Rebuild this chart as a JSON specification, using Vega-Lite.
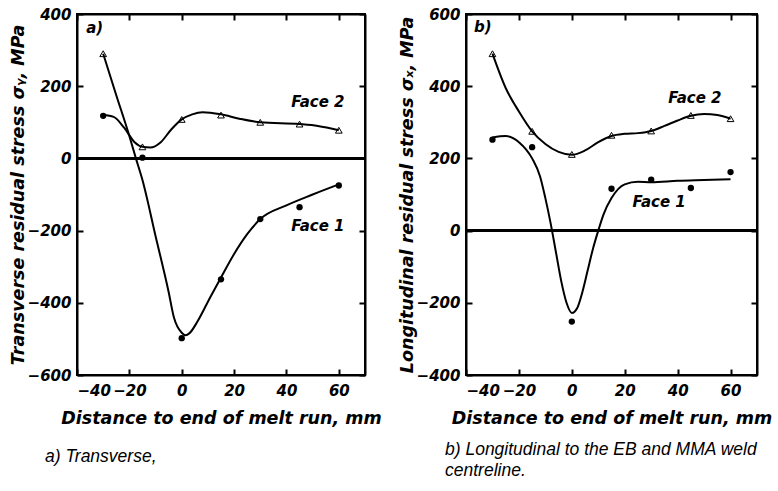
{
  "$schema": "https://vega.github.io/schema/vega-lite/v6.json",
  "background": "white",
  "padding": {"left": 8, "top": 6, "right": 0, "bottom": 0},
  "spacing": 14,
  "config": {
    "view": {"stroke": "black", "strokeWidth": 2},
    "axis": {
      "domain": true,
      "domainColor": "black",
      "domainWidth": 2,
      "grid": false,
      "tickColor": "black",
      "tickWidth": 2,
      "tickSize": -6,
      "labelFont": "DejaVu Sans",
      "labelFontSize": 15,
      "labelFontWeight": "bold",
      "labelFontStyle": "italic",
      "labelColor": "black",
      "labelExpr": "datum.value < 0 ? '\u2212' + format(-datum.value, 'd') : format(datum.value, 'd')",
      "titleFont": "DejaVu Sans",
      "titleFontSize": 17.5,
      "titleFontWeight": "bold",
      "titleFontStyle": "italic",
      "titleColor": "black"
    },
    "title": {
      "font": "Liberation Sans",
      "fontSize": 17.5,
      "fontStyle": "italic",
      "fontWeight": "normal",
      "color": "black",
      "orient": "bottom",
      "anchor": "start",
      "frame": "group",
      "lineHeight": 21
    }
  },
  "hconcat": [
    {
      "width": 288,
      "height": 361,
      "title": {"text": "a) Transverse,", "dx": -32, "offset": 21},
      "data": {"values": [
        {"kind": "curve", "series": "Face 1", "x": -30, "y": 290},
        {"kind": "curve", "series": "Face 1", "x": -25, "y": 175},
        {"kind": "curve", "series": "Face 1", "x": -20, "y": 62},
        {"kind": "curve", "series": "Face 1", "x": -17.5, "y": 0},
        {"kind": "curve", "series": "Face 1", "x": -15, "y": -60},
        {"kind": "curve", "series": "Face 1", "x": -10, "y": -215},
        {"kind": "curve", "series": "Face 1", "x": -5, "y": -370},
        {"kind": "curve", "series": "Face 1", "x": -3, "y": -440},
        {"kind": "curve", "series": "Face 1", "x": 0, "y": -483},
        {"kind": "curve", "series": "Face 1", "x": 1.5, "y": -490},
        {"kind": "curve", "series": "Face 1", "x": 3, "y": -484},
        {"kind": "curve", "series": "Face 1", "x": 6, "y": -452},
        {"kind": "curve", "series": "Face 1", "x": 11, "y": -383},
        {"kind": "curve", "series": "Face 1", "x": 15, "y": -330},
        {"kind": "curve", "series": "Face 1", "x": 20, "y": -265},
        {"kind": "curve", "series": "Face 1", "x": 25, "y": -210},
        {"kind": "curve", "series": "Face 1", "x": 30, "y": -168},
        {"kind": "curve", "series": "Face 1", "x": 40, "y": -130},
        {"kind": "curve", "series": "Face 1", "x": 50, "y": -100},
        {"kind": "curve", "series": "Face 1", "x": 60, "y": -72},
        {"kind": "curve", "series": "Face 2", "x": -30, "y": 120},
        {"kind": "curve", "series": "Face 2", "x": -26, "y": 115},
        {"kind": "curve", "series": "Face 2", "x": -22, "y": 85},
        {"kind": "curve", "series": "Face 2", "x": -18, "y": 45},
        {"kind": "curve", "series": "Face 2", "x": -15, "y": 32},
        {"kind": "curve", "series": "Face 2", "x": -12, "y": 30},
        {"kind": "curve", "series": "Face 2", "x": -8, "y": 45},
        {"kind": "curve", "series": "Face 2", "x": -4, "y": 80},
        {"kind": "curve", "series": "Face 2", "x": 0, "y": 108},
        {"kind": "curve", "series": "Face 2", "x": 4, "y": 122},
        {"kind": "curve", "series": "Face 2", "x": 8, "y": 128},
        {"kind": "curve", "series": "Face 2", "x": 15, "y": 122},
        {"kind": "curve", "series": "Face 2", "x": 22, "y": 110},
        {"kind": "curve", "series": "Face 2", "x": 30, "y": 100},
        {"kind": "curve", "series": "Face 2", "x": 45, "y": 95},
        {"kind": "curve", "series": "Face 2", "x": 52, "y": 90},
        {"kind": "curve", "series": "Face 2", "x": 60, "y": 78},
        {"kind": "point", "series": "Face 1", "x": -30, "y": 118},
        {"kind": "point", "series": "Face 1", "x": -15, "y": 2},
        {"kind": "point", "series": "Face 1", "x": 0, "y": -498},
        {"kind": "point", "series": "Face 1", "x": 15, "y": -335},
        {"kind": "point", "series": "Face 1", "x": 30, "y": -168},
        {"kind": "point", "series": "Face 1", "x": 45, "y": -135},
        {"kind": "point", "series": "Face 1", "x": 60, "y": -75},
        {"kind": "point", "series": "Face 2", "x": -30, "y": 290},
        {"kind": "point", "series": "Face 2", "x": -15, "y": 32},
        {"kind": "point", "series": "Face 2", "x": 0, "y": 108},
        {"kind": "point", "series": "Face 2", "x": 15, "y": 120},
        {"kind": "point", "series": "Face 2", "x": 30, "y": 100},
        {"kind": "point", "series": "Face 2", "x": 45, "y": 95},
        {"kind": "point", "series": "Face 2", "x": 60, "y": 78},
        {"kind": "label", "x": 52, "y": 157, "text": "Face 2"},
        {"kind": "label", "x": 52, "y": -187, "text": "Face 1"},
        {"kind": "tag", "x": -36.5, "y": 361, "text": "a)"}
      ]},
      "resolve": {"axis": {"x": "independent", "y": "independent"}},
      "layer": [
        {
          "mark": {"type": "rule", "color": "black", "strokeWidth": 2},
          "encoding": {"y": {"datum": 0, "type": "quantitative", "scale": {"domain": [-600, 400], "nice": false}, "axis": null}}
        },
        {
          "transform": [{"filter": "datum.kind === 'curve'"}],
          "mark": {"type": "line", "interpolate": "monotone", "color": "black", "strokeWidth": 2},
          "encoding": {
            "x": {"field": "x", "type": "quantitative", "scale": {"domain": [-40, 70], "nice": false},
                  "axis": {"orient": "bottom", "values": [-40, -20, 0, 20, 40, 60], "labelPadding": 14, "title": "Distance to end of melt run, mm", "titlePadding": 11}},
            "y": {"field": "y", "type": "quantitative", "scale": {"domain": [-600, 400], "nice": false},
                  "axis": {"orient": "left", "values": [-600, -400, -200, 0, 200, 400], "labelPadding": 12, "title": "Transverse residual stress σᵧ, MPa", "titlePadding": 0}},
            "detail": {"field": "series"},
            "order": {"field": "x", "type": "quantitative"}
          }
        },
        {
          "transform": [{"filter": "datum.kind === 'point' && datum.series === 'Face 1'"}],
          "mark": {"type": "point", "shape": "circle", "filled": true, "color": "black", "size": 40, "opacity": 1},
          "encoding": {
            "x": {"field": "x", "type": "quantitative", "axis": {"orient": "top", "values": [-40, -20, 0, 20, 40, 60], "labels": false, "title": null}},
            "y": {"field": "y", "type": "quantitative", "axis": {"orient": "right", "values": [-600, -400, -200, 0, 200, 400], "labels": false, "title": null}}
          }
        },
        {
          "transform": [{"filter": "datum.kind === 'point' && datum.series === 'Face 2'"}],
          "mark": {"type": "point", "shape": "triangle-up", "filled": false, "color": "black", "strokeWidth": 1, "size": 45, "opacity": 1},
          "encoding": {
            "x": {"field": "x", "type": "quantitative", "axis": null},
            "y": {"field": "y", "type": "quantitative", "axis": null}
          }
        },
        {
          "transform": [{"filter": "datum.kind === 'label'"}],
          "mark": {"type": "text", "font": "DejaVu Sans", "fontSize": 15, "fontWeight": "bold", "fontStyle": "italic", "color": "black", "baseline": "middle", "align": "center"},
          "encoding": {
            "x": {"field": "x", "type": "quantitative", "axis": null},
            "y": {"field": "y", "type": "quantitative", "axis": null},
            "text": {"field": "text"}
          }
        },
        {
          "transform": [{"filter": "datum.kind === 'tag'"}],
          "mark": {"type": "text", "font": "DejaVu Sans", "fontSize": 15, "fontWeight": "bold", "fontStyle": "italic", "color": "black", "baseline": "middle", "align": "left"},
          "encoding": {
            "x": {"field": "x", "type": "quantitative", "axis": null},
            "y": {"field": "y", "type": "quantitative", "axis": null},
            "text": {"field": "text"}
          }
        }
      ]
    },
    {
      "width": 291,
      "height": 361,
      "title": {"text": ["b) Longitudinal to the EB and MMA weld", "\u00a0\u00a0\u00a0\u00a0\u00a0centreline."], "dx": -21, "offset": 14},
      "data": {"values": [
        {"kind": "curve", "series": "Face 1", "x": -30, "y": 258},
        {"kind": "curve", "series": "Face 1", "x": -25, "y": 262},
        {"kind": "curve", "series": "Face 1", "x": -20, "y": 245},
        {"kind": "curve", "series": "Face 1", "x": -15, "y": 200},
        {"kind": "curve", "series": "Face 1", "x": -12, "y": 150},
        {"kind": "curve", "series": "Face 1", "x": -10, "y": 90},
        {"kind": "curve", "series": "Face 1", "x": -8, "y": 20},
        {"kind": "curve", "series": "Face 1", "x": -6, "y": -60},
        {"kind": "curve", "series": "Face 1", "x": -4, "y": -140},
        {"kind": "curve", "series": "Face 1", "x": -2, "y": -200},
        {"kind": "curve", "series": "Face 1", "x": 0, "y": -228},
        {"kind": "curve", "series": "Face 1", "x": 2, "y": -215},
        {"kind": "curve", "series": "Face 1", "x": 4, "y": -170},
        {"kind": "curve", "series": "Face 1", "x": 6, "y": -110},
        {"kind": "curve", "series": "Face 1", "x": 8, "y": -50},
        {"kind": "curve", "series": "Face 1", "x": 10, "y": 0},
        {"kind": "curve", "series": "Face 1", "x": 12, "y": 45},
        {"kind": "curve", "series": "Face 1", "x": 15, "y": 90},
        {"kind": "curve", "series": "Face 1", "x": 20, "y": 128},
        {"kind": "curve", "series": "Face 1", "x": 25, "y": 135},
        {"kind": "curve", "series": "Face 1", "x": 30, "y": 134},
        {"kind": "curve", "series": "Face 1", "x": 40, "y": 138},
        {"kind": "curve", "series": "Face 1", "x": 50, "y": 140},
        {"kind": "curve", "series": "Face 1", "x": 60, "y": 142},
        {"kind": "curve", "series": "Face 2", "x": -30, "y": 490},
        {"kind": "curve", "series": "Face 2", "x": -25, "y": 395},
        {"kind": "curve", "series": "Face 2", "x": -20, "y": 330},
        {"kind": "curve", "series": "Face 2", "x": -15, "y": 275},
        {"kind": "curve", "series": "Face 2", "x": -10, "y": 240},
        {"kind": "curve", "series": "Face 2", "x": -5, "y": 218},
        {"kind": "curve", "series": "Face 2", "x": 0, "y": 210},
        {"kind": "curve", "series": "Face 2", "x": 5, "y": 222},
        {"kind": "curve", "series": "Face 2", "x": 10, "y": 245},
        {"kind": "curve", "series": "Face 2", "x": 15, "y": 262},
        {"kind": "curve", "series": "Face 2", "x": 20, "y": 268},
        {"kind": "curve", "series": "Face 2", "x": 25, "y": 270},
        {"kind": "curve", "series": "Face 2", "x": 30, "y": 276},
        {"kind": "curve", "series": "Face 2", "x": 35, "y": 290},
        {"kind": "curve", "series": "Face 2", "x": 40, "y": 305},
        {"kind": "curve", "series": "Face 2", "x": 45, "y": 318},
        {"kind": "curve", "series": "Face 2", "x": 50, "y": 323},
        {"kind": "curve", "series": "Face 2", "x": 55, "y": 320},
        {"kind": "curve", "series": "Face 2", "x": 60, "y": 310},
        {"kind": "point", "series": "Face 1", "x": -30, "y": 252},
        {"kind": "point", "series": "Face 1", "x": -15, "y": 231},
        {"kind": "point", "series": "Face 1", "x": 0, "y": -252},
        {"kind": "point", "series": "Face 1", "x": 15, "y": 116},
        {"kind": "point", "series": "Face 1", "x": 30, "y": 141},
        {"kind": "point", "series": "Face 1", "x": 45, "y": 118},
        {"kind": "point", "series": "Face 1", "x": 60, "y": 162},
        {"kind": "point", "series": "Face 2", "x": -30, "y": 490},
        {"kind": "point", "series": "Face 2", "x": -15, "y": 275},
        {"kind": "point", "series": "Face 2", "x": 0, "y": 211},
        {"kind": "point", "series": "Face 2", "x": 15, "y": 264},
        {"kind": "point", "series": "Face 2", "x": 30, "y": 276},
        {"kind": "point", "series": "Face 2", "x": 45, "y": 319},
        {"kind": "point", "series": "Face 2", "x": 60, "y": 310},
        {"kind": "label", "x": 46.5, "y": 368, "text": "Face 2"},
        {"kind": "label", "x": 33, "y": 79, "text": "Face 1"},
        {"kind": "tag", "x": -37, "y": 565, "text": "b)"}
      ]},
      "resolve": {"axis": {"x": "independent", "y": "independent"}},
      "layer": [
        {
          "mark": {"type": "rule", "color": "black", "strokeWidth": 2},
          "encoding": {"y": {"datum": 0, "type": "quantitative", "scale": {"domain": [-400, 600], "nice": false}, "axis": null}}
        },
        {
          "transform": [{"filter": "datum.kind === 'curve'"}],
          "mark": {"type": "line", "interpolate": "monotone", "color": "black", "strokeWidth": 2},
          "encoding": {
            "x": {"field": "x", "type": "quantitative", "scale": {"domain": [-40, 70], "nice": false},
                  "axis": {"orient": "bottom", "values": [-40, -20, 0, 20, 40, 60], "labelPadding": 14, "title": "Distance to end of melt run, mm", "titlePadding": 11}},
            "y": {"field": "y", "type": "quantitative", "scale": {"domain": [-400, 600], "nice": false},
                  "axis": {"orient": "left", "values": [-400, -200, 0, 200, 400, 600], "labelPadding": 12, "title": "Longitudinal residual stress σₓ, MPa", "titlePadding": 0}},
            "detail": {"field": "series"},
            "order": {"field": "x", "type": "quantitative"}
          }
        },
        {
          "transform": [{"filter": "datum.kind === 'point' && datum.series === 'Face 1'"}],
          "mark": {"type": "point", "shape": "circle", "filled": true, "color": "black", "size": 40, "opacity": 1},
          "encoding": {
            "x": {"field": "x", "type": "quantitative", "axis": {"orient": "top", "values": [-40, -20, 0, 20, 40, 60], "labels": false, "title": null}},
            "y": {"field": "y", "type": "quantitative", "axis": {"orient": "right", "values": [-400, -200, 0, 200, 400, 600], "labels": false, "title": null}}
          }
        },
        {
          "transform": [{"filter": "datum.kind === 'point' && datum.series === 'Face 2'"}],
          "mark": {"type": "point", "shape": "triangle-up", "filled": false, "color": "black", "strokeWidth": 1, "size": 45, "opacity": 1},
          "encoding": {
            "x": {"field": "x", "type": "quantitative", "axis": null},
            "y": {"field": "y", "type": "quantitative", "axis": null}
          }
        },
        {
          "transform": [{"filter": "datum.kind === 'label'"}],
          "mark": {"type": "text", "font": "DejaVu Sans", "fontSize": 15, "fontWeight": "bold", "fontStyle": "italic", "color": "black", "baseline": "middle", "align": "center"},
          "encoding": {
            "x": {"field": "x", "type": "quantitative", "axis": null},
            "y": {"field": "y", "type": "quantitative", "axis": null},
            "text": {"field": "text"}
          }
        },
        {
          "transform": [{"filter": "datum.kind === 'tag'"}],
          "mark": {"type": "text", "font": "DejaVu Sans", "fontSize": 15, "fontWeight": "bold", "fontStyle": "italic", "color": "black", "baseline": "middle", "align": "left"},
          "encoding": {
            "x": {"field": "x", "type": "quantitative", "axis": null},
            "y": {"field": "y", "type": "quantitative", "axis": null},
            "text": {"field": "text"}
          }
        }
      ]
    }
  ]
}
